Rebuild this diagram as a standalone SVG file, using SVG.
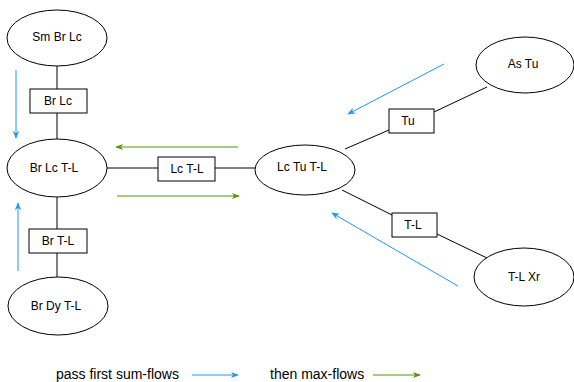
<svg xmlns="http://www.w3.org/2000/svg" width="574" height="382" viewBox="0 0 574 382">
  <style>
    .node ellipse, .node rect { fill: #ffffff; stroke: #000000; stroke-width: 1; }
    text { font-family: "Liberation Sans", Arial, Helvetica, sans-serif; font-size: 12px; fill: #000000; text-anchor: middle; dominant-baseline: central; }
    .legend { font-size: 14px; text-anchor: start; }
    .edge { stroke: #000000; stroke-width: 1; fill: none; }
    .blue { stroke: #1c9af5; stroke-width: 1; fill: none; marker-end: url(#headBlue); }
    .green { stroke: #4d9900; stroke-width: 1; fill: none; marker-end: url(#headGreen); }
  </style>
  <defs>
    <marker id="headBlue" viewBox="0 0 10 10" refX="9" refY="5" markerWidth="8" markerHeight="8" markerUnits="userSpaceOnUse" orient="auto">
      <path d="M0,1 L10,5 L0,9 L3,5 Z" fill="#1c9af5"/>
    </marker>
    <marker id="headGreen" viewBox="0 0 10 10" refX="9" refY="5" markerWidth="8" markerHeight="8" markerUnits="userSpaceOnUse" orient="auto">
      <path d="M0,1 L10,5 L0,9 L3,5 Z" fill="#4d9900"/>
    </marker>
  </defs>

  <!-- connectors between nodes and label boxes -->
  <g id="connectors">
    <line class="edge" x1="57" y1="66" x2="57" y2="89"/>
    <line class="edge" x1="57" y1="113" x2="57" y2="139"/>
    <line class="edge" x1="57" y1="197" x2="57" y2="229"/>
    <line class="edge" x1="57" y1="253" x2="57" y2="277"/>
    <line class="edge" x1="107" y1="168" x2="158" y2="168"/>
    <line class="edge" x1="215" y1="168" x2="255" y2="168"/>
    <line class="edge" x1="345" y1="149" x2="389" y2="130"/>
    <line class="edge" x1="434" y1="112" x2="487" y2="87"/>
    <line class="edge" x1="342" y1="190" x2="392" y2="215"/>
    <line class="edge" x1="437" y1="234" x2="487" y2="258"/>
  </g>

  <!-- flow direction arrows -->
  <g id="flows">
    <line class="blue" x1="16" y1="70" x2="16" y2="138"/>
    <line class="blue" x1="18" y1="271" x2="18" y2="203"/>
    <line class="blue" x1="444" y1="64" x2="348" y2="114"/>
    <line class="blue" x1="458" y1="286" x2="332" y2="213"/>
    <line class="green" x1="238" y1="147" x2="116" y2="147"/>
    <line class="green" x1="117" y1="196" x2="239" y2="196"/>
  </g>

  <g id="smBrLc" class="node">
    <ellipse cx="57" cy="38" rx="50" ry="28"/>
    <text x="57" y="37">Sm Br Lc</text>
  </g>
  <g id="brLc" class="node">
    <rect x="30" y="89" width="57" height="24"/>
    <text x="58" y="101">Br Lc</text>
  </g>
  <g id="brLcTL" class="node">
    <ellipse cx="57" cy="168" rx="50" ry="29"/>
    <text x="54" y="168">Br Lc T-L</text>
  </g>
  <g id="brTL" class="node">
    <rect x="29" y="229" width="58" height="24"/>
    <text x="58" y="241">Br T-L</text>
  </g>
  <g id="brDyTL" class="node">
    <ellipse cx="58" cy="306" rx="50" ry="29"/>
    <text x="56" y="306">Br Dy T-L</text>
  </g>
  <g id="lcTL" class="node">
    <rect x="158" y="157" width="57" height="24"/>
    <text x="187" y="169">Lc T-L</text>
  </g>
  <g id="lcTuTL" class="node">
    <ellipse cx="305" cy="170" rx="50" ry="25"/>
    <text x="302" y="167">Lc Tu T-L</text>
  </g>
  <g id="tu" class="node">
    <rect x="389" y="109" width="45" height="24"/>
    <text x="408" y="121">Tu</text>
  </g>
  <g id="asTu" class="node">
    <ellipse cx="525" cy="65" rx="49" ry="28"/>
    <text x="523" y="64">As Tu</text>
  </g>
  <g id="tl" class="node">
    <rect x="392" y="213" width="45" height="24"/>
    <text x="413" y="225">T-L</text>
  </g>
  <g id="tlXr" class="node">
    <ellipse cx="524" cy="277" rx="50" ry="29"/>
    <text x="524" y="277">T-L Xr</text>
  </g>

  <!-- legend -->
  <g id="legend">
    <text class="legend" x="56" y="374">pass first sum-flows</text>
    <line class="blue" x1="192" y1="375" x2="238" y2="375"/>
    <text class="legend" x="270" y="374">then max-flows</text>
    <line class="green" x1="373" y1="375" x2="420" y2="375"/>
  </g>
</svg>
